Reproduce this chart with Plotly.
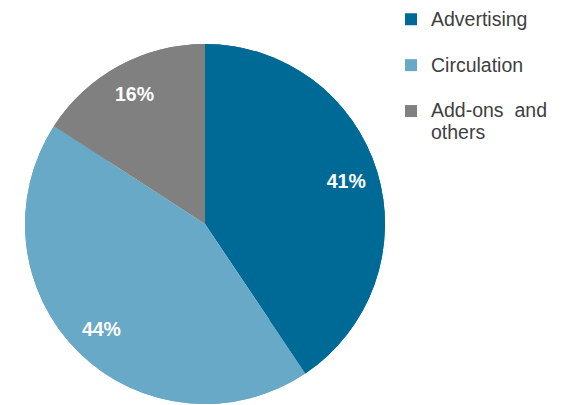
import plotly.graph_objects as go

categories = ["Advertising", "Circulation", "Add-ons  and", "others"]
values = [41, 44, 16]
pct_labels = ["41%", "44%", "16%"]
colors = ["#006a96", "#67a9c6", "#808080"]

W, H = 565, 405
cx, cy, r = 205, 224, 180
dom_x = [(cx - r) / W, (cx + r) / W]
dom_y = [1 - (cy + r) / H, 1 - (cy - r) / H]


def big(t):
    return "<span style='font-size:19.5px'>" + t + "</span>"


legend_names = [
    big(categories[0]) + "<br>&nbsp;",
    big(categories[1]) + "<br>&nbsp;",
    big(categories[2]) + "<br>" + big(categories[3]),
]

fig = go.Figure()
fig.add_trace(go.Pie(
    labels=legend_names, values=values, sort=False, direction="clockwise",
    rotation=0, marker=dict(colors=colors, line=dict(width=0)),
    textinfo="none", domain=dict(x=dom_x, y=dom_y), hoverinfo="skip",
))
fig.add_trace(go.Pie(
    labels=legend_names, values=values, sort=False, direction="clockwise",
    rotation=0, hole=0.64, marker=dict(colors=colors, line=dict(width=0)),
    text=pct_labels, textinfo="text", textposition="inside",
    insidetextorientation="horizontal",
    textfont=dict(family="Liberation Sans, Arial", size=19.5, color="white", weight="bold"),
    domain=dict(x=dom_x, y=dom_y), showlegend=False, hoverinfo="skip",
))
fig.update_layout(
    width=W, height=H, margin=dict(l=0, r=0, t=0, b=0),
    paper_bgcolor="white", plot_bgcolor="white",
    font=dict(family="Liberation Sans, Arial", size=16.5, color="#404040"),
    legend=dict(x=0.692, y=0.995, xanchor="left", yanchor="top", valign="top",
                font=dict(size=16.5, color="#404040"), itemwidth=30,
                bgcolor="rgba(0,0,0,0)", tracegroupgap=0),
    showlegend=True,
)
fig.write_html("out.html")
